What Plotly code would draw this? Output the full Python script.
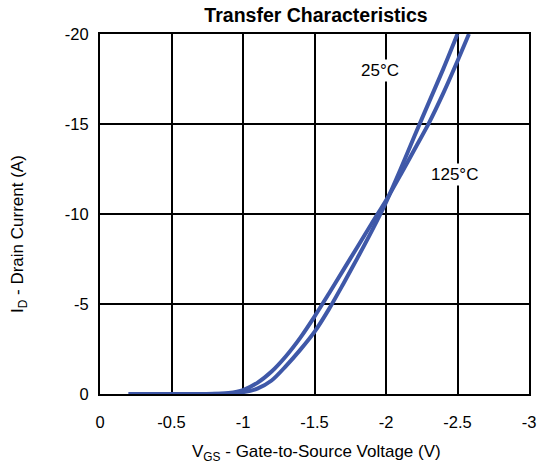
import plotly.graph_objects as go

# Data
vgs_125 = [-0.2, -0.7, -0.8, -0.9, -1.0, -1.1, -1.2, -1.3, -1.4, -1.5, -1.6, -1.7, -1.8, -1.9, -2.0, -2.1, -2.2, -2.3, -2.4, -2.5, -2.58]
id_125 = [0, 0, -0.01, -0.06, -0.22, -0.62, -1.25, -2.1, -3.12, -4.3, -5.57, -6.87, -8.17, -9.47, -10.75, -12.15, -13.6, -15.05, -16.7, -18.5, -20]

vgs_25 = [-0.2, -0.75, -0.85, -0.9, -1.0, -1.1, -1.2, -1.3, -1.4, -1.5, -1.6, -1.7, -1.8, -1.9, -2.0, -2.1, -2.2, -2.3, -2.4, -2.5]
id_25 = [0, 0, -0.01, -0.03, -0.1, -0.3, -0.75, -1.55, -2.45, -3.45, -4.7, -6.1, -7.55, -9.05, -10.65, -12.45, -14.35, -16.2, -18.05, -20]

x_ticks = [0, -0.5, -1, -1.5, -2, -2.5, -3]
x_tick_labels = ["0", "-0.5", "-1", "-1.5", "-2", "-2.5", "-3"]
y_ticks = [0, -5, -10, -15, -20]
y_tick_labels = ["0", "-5", "-10", "-15", "-20"]

line_color = "#3F58A8"
font_family = "Liberation Sans, Arial, sans-serif"

L, R, T, B = 100, 8, 34, 76
W, H = 537, 470
PW, PH = W - L - R, H - T - B


def px_to_paper(px, py):
    return (px - L) / PW, (H - B - py) / PH


fig = go.Figure()
fig.add_trace(go.Scatter(x=vgs_125, y=id_125, mode="lines", name="125°C",
                         line=dict(color=line_color, width=4, shape="spline", smoothing=0.8)))
fig.add_trace(go.Scatter(x=vgs_25, y=id_25, mode="lines", name="25°C",
                         line=dict(color=line_color, width=4, shape="spline", smoothing=0.8)))

axis_common = dict(showline=True, mirror=True, linecolor="black", linewidth=2,
                   showgrid=True, gridcolor="black", gridwidth=2, zeroline=False,
                   automargin=False,
                   ticks="", tickfont=dict(family=font_family, size=16.5, color="black"))

fig.update_xaxes(range=[0, -3], tickvals=x_ticks, ticktext=x_tick_labels,
                 ticklabelstandoff=12, **axis_common)
fig.update_yaxes(range=[0, -20], tickvals=y_ticks, ticktext=y_tick_labels,
                 ticklabelstandoff=6, **axis_common)

xl_x, xl_y = px_to_paper(316, 453)
yl_x, yl_y = px_to_paper(19, 234)

fig.update_layout(
    width=W, height=H,
    margin=dict(l=L, r=R, t=T, b=B, autoexpand=False),
    paper_bgcolor="white", plot_bgcolor="white",
    showlegend=False,
    font=dict(family=font_family, color="black"),
    title=dict(text="<b>Transfer Characteristics</b>", x=316 / W, xanchor="center",
               y=1 - 15 / H, yanchor="middle", font=dict(size=19.5, family=font_family, color="black")),
    annotations=[
        dict(text="25°C", x=-1.96, y=-18.0, xref="x", yref="y", showarrow=False,
             bgcolor="white", font=dict(size=17, family=font_family, color="black")),
        dict(text="125°C", x=-2.48, y=-12.2, xref="x", yref="y", showarrow=False,
             bgcolor="white", font=dict(size=17, family=font_family, color="black")),
        dict(text="V<sub>GS</sub> - Gate-to-Source Voltage (V)", x=xl_x, y=xl_y,
             xref="paper", yref="paper", showarrow=False, xanchor="center", yanchor="middle",
             font=dict(size=17, family=font_family, color="black")),
        dict(text="I<sub>D</sub> - Drain Current (A)", x=yl_x, y=yl_y,
             xref="paper", yref="paper", showarrow=False, xanchor="center", yanchor="middle",
             textangle=-90, font=dict(size=17, family=font_family, color="black")),
    ],
)

fig.write_html("out.html", post_script="document.body.style.margin='0';",
               config={"displayModeBar": False})
